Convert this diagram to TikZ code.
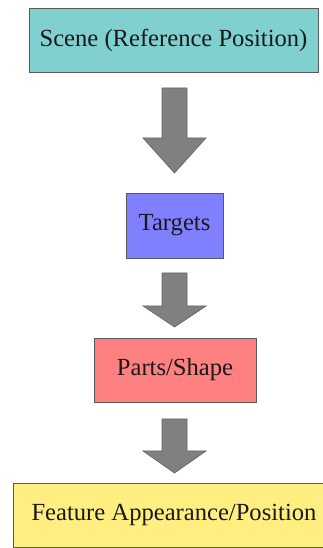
\documentclass[tikz,border=0pt]{standalone}
\usepackage{fontspec}
\setmainfont{Liberation Serif}
\usetikzlibrary{positioning}

\definecolor{scenecol}{HTML}{80D0D0}
\definecolor{targetcol}{HTML}{8080FF}
\definecolor{partcol}{HTML}{FF8080}
\definecolor{featcol}{HTML}{FFEF80}
\definecolor{arrowcol}{HTML}{808080}

\tikzset{
  stage/.style={draw=black!65, line width=0.8pt, minimum height=64pt,
    inner sep=0pt, font=\fontsize{24.6}{28}\selectfont, text=black!90},
  bigarrow/.style={fill=arrowcol, draw=black!60, line width=0.7pt}
}

\begin{document}
\begin{tikzpicture}[x=1pt, y=1pt]
            \useasboundingbox (0,0) rectangle (323,548);

            \node[stage, fill=scenecol, minimum width=289pt] (scene) at (173.5,508) {Scene (Reference Position)};
            \node[stage, fill=targetcol, minimum width=97pt, minimum height=65pt] (targets) at (174.5,322.5) {Targets};
            \node[stage, fill=partcol, minimum width=162pt] (parts) at (175,178) {Parts/Shape};
            \node[stage, fill=featcol, minimum width=322pt] (feature) at (174,33) {Feature Appearance/Position};

            % block arrows: top of shaft / base of head / tip
            \foreach \top/\base/\tip in {460/410/375, 275/242/221, 129/97/75}
              \draw[bigarrow] (162,\top) -- (187,\top) -- (187,\base) -- (206,\base)
                -- (174.5,\tip) -- (143,\base) -- (162,\base) -- cycle;
        \end{tikzpicture}
\end{document}
